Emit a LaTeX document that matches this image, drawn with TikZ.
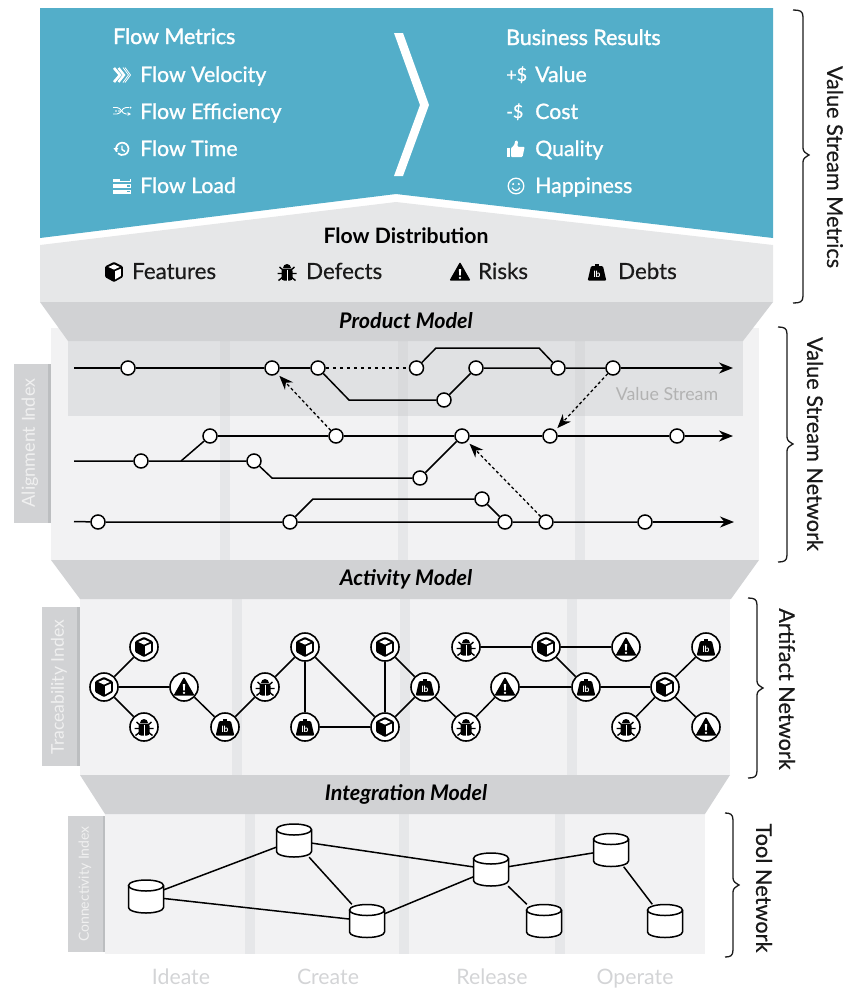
\documentclass[tikz,border=0pt]{standalone}
\usepackage{fontspec}
\setmainfont{Lato}
\newfontfamily\softfont[FakeBold=0.5]{Lato}
\newfontfamily\medfont[FakeBold=1.0]{Lato}
\newfontfamily\headfont[FakeBold=1.6]{Lato}
\usetikzlibrary{arrows.meta,shapes.geometric}
\definecolor{blueT}{HTML}{53AEC9}
\definecolor{distG}{HTML}{E6E7E8}
\definecolor{modelG}{HTML}{D1D2D4}
\definecolor{panelG}{HTML}{F2F2F3}
\definecolor{bandG}{HTML}{E0E1E3}
\definecolor{stripeG}{HTML}{E6E7E9}
\definecolor{stripeD}{HTML}{D9DADC}
\definecolor{idxG}{HTML}{D1D2D4}
\definecolor{idxE}{HTML}{BCBEC0}
\definecolor{phaseG}{HTML}{D3D4D6}
\definecolor{inkT}{HTML}{1A1A1A}
\tikzset{
  wtext/.style={text=white,inner sep=0,anchor=base west,font=\medfont\fontsize{21.3}{25}\selectfont},
  whead/.style={text=white,inner sep=0,anchor=base west,font=\headfont\fontsize{21.4}{25}\selectfont},
  dtext/.style={text=inkT,inner sep=0,anchor=base west,font=\softfont\fontsize{22.3}{26}\selectfont},
  modeltext/.style={text=black,inner sep=0,anchor=base,font=\bfseries\itshape\fontsize{21.5}{25}\selectfont},
  sidetext/.style={text=inkT,inner sep=0,rotate=-90,font=\softfont\fontsize{21.7}{26}\selectfont},
  idxtext/.style={text=white!94!black,inner sep=0,rotate=90},
  phase/.style={text=phaseG,inner sep=0,anchor=base,font=\fontsize{21.3}{25}\selectfont},
  flowline/.style={line width=1.5pt,black},
  flowarrow/.style={line width=1.5pt,black,-{Stealth[length=14pt,width=11pt]}},
  dashlink/.style={line width=1.1pt,dash pattern=on 3.5pt off 3.5pt,black},
  dotarrow/.style={line width=1.3pt,dash pattern=on 3pt off 2.5pt,black,-{Stealth[length=14pt,width=11pt]}},
  stage/.style={circle,draw=black,fill=white,line width=1.5pt,minimum size=14pt,inner sep=0},
  art/.style={circle,draw=black,fill=white,line width=1.6pt,minimum size=28pt,inner sep=0},
  tool/.style={rectangle,minimum width=35pt,minimum height=33pt,inner sep=0},
  link/.style={line width=1.5pt,black},
  bracket/.style={line width=1.3pt,inkT},
  cyl/.pic={
    \fill[white] (-17.5,-11)--(-17.5,11) arc[start angle=180,end angle=0,x radius=17.5,y radius=5.5]--(17.5,-11)--cycle;
    \draw[black,line width=1.5pt] (-17.5,-11)--(-17.5,11) arc[start angle=180,end angle=0,x radius=17.5,y radius=5.5]--(17.5,-11);
    \draw[black,line width=1.5pt,fill=white] (0,-11) ellipse[x radius=17.5,y radius=5.5];
  },
  cube/.pic={
    \fill[black,rounded corners=1pt] (0,-10)--(8.8,-5.7)--(8.8,5.2)--(0,10)--(-8.8,5.2)--(-8.8,-5.7)--cycle;
    \fill[white] (0,-7.6)--(5.7,-5)--(0,-2.4)--(-5.7,-5)--cycle;
    \fill[white] (1.1,-0.8)--(6.9,-3.3)--(6.9,4)--(1.1,7.4)--cycle;
  },
  bug/.pic={
    \draw[black,line width=1.4pt] (-4,-2)--(-7.5,-5) (4,-2)--(7.5,-5) (-4,1.5)--(-9.5,1.5) (4,1.5)--(9.5,1.5) (-4,5)--(-8.5,8.5) (4,5)--(8.5,8.5);
    \fill[black] (-4,-4) arc[start angle=180,end angle=360,radius=4] -- cycle;
    \fill[black,rounded corners=2.5pt] (-5.5,-3.5) rectangle (5.5,8.5);
    \draw[white,line width=1pt] (0,-2.5)--(0,8.5);
  },
  risk/.pic={
    \fill[black,rounded corners=1pt] (0,-10)--(10.5,8.5)--(-10.5,8.5)--cycle;
    \fill[white] (-1.2,-3)--(1.2,-3)--(0.7,3.5)--(-0.7,3.5)--cycle;
    \fill[white] (0,5.8) circle[radius=1.3];
  },
  debt/.pic={
    \fill[black] (-2,-8) rectangle (2,-5);
    \fill[black,rounded corners=1pt] (-6,-5.8)--(6,-5.8)--(9.3,8.5)--(-9.3,8.5)--cycle;
    \node[text=white,inner sep=0,font=\bfseries\fontsize{8.5}{8.5}\selectfont] at (0,2) {lb};
  },
  velicon/.pic={
    \draw[white,line width=2.6pt] (-8,-7)--(-2,0)--(-8,7);
    \draw[white,line width=2.4pt] (-3.5,-7)--(2,0)--(-3.5,7);
    \draw[white,line width=0.8pt] (1,-7.5)--(6.5,0)--(1,7.5);
    \draw[white,line width=0.8pt] (3,-7.5)--(8.5,0)--(3,7.5);
  },
  efficon/.pic={
    \draw[white,line width=0.9pt,-{Stealth[length=3.5pt,width=3.5pt]}] (-9,-3.5)--(-5,-3.5) .. controls (-1,-3.5) and (0,3) .. (4,3) -- (9,3);
    \draw[white,line width=0.9pt] (-9,3)--(-5,3) .. controls (-1,3) and (0,-3.5) .. (4,-3.5) -- (7,-3.5);
    \fill[white] (-6,0) circle[radius=0.9] (-3,0) circle[radius=0.9];
    \fill[white] (8.5,-3.5) circle[radius=1];
  },
  timeicon/.pic={
    \draw[white,line width=1.7pt] (-5.2,2.8) arc[start angle=208,end angle=-135,x radius=6.2,y radius=-6.2];
    \fill[white] (-8.5,-0.8)--(-3.6,-0.8)--(-6,2.4)--cycle;
    \draw[white,line width=1.4pt] (0,-3.5)--(0,0.5)--(3,2.5);
  },
  loadicon/.pic={
    \fill[white] (-8.7,-7.5) rectangle (8.7,-3.6);
    \fill[white] (-8.7,-2.2) rectangle (8.7,2.2);
    \fill[white] (-8.7,3.6) rectangle (8.7,7.5);
    \fill[blueT] (-2,-6.6) rectangle (7.5,-4.6);
    \fill[blueT] (5,-0.8) rectangle (7.5,0.8);
    \fill[blueT] (5,4.8) rectangle (7.5,6.4);
  },
  thumbicon/.pic={
    \fill[white] (-8.7,-1) rectangle (-6.3,8);
    \fill[white,rounded corners=1pt] (-5,-1) -- (-2,-3.5) -- (-0.5,-8.8) -- (2,-8) -- (1.4,-2.2) -- (8.7,-2.2) -- (6.5,8) -- (-5,8) -- cycle;
  },
  smileicon/.pic={
    \draw[white,line width=1.3pt] (0,0) circle[radius=7.8];
    \fill[white] (-2.8,-2) circle[radius=1.2] (2.8,-2) circle[radius=1.2];
    \draw[white,line width=1.2pt] (-4,1.8) .. controls (-2,5.2) and (2,5.2) .. (4,1.8);
  }
}
\newcommand{\sidebrace}[6]{% left, spine, tip, top, mid, bottom
  \draw[bracket] ({#1},{#4}) .. controls ({#2-3},{#4}) and ({#2},{#4+1}) .. ({#2},{#4+7})
    -- ({#2},{#5-7}) .. controls ({#2},{#5-3}) and ({#3-3},{#5-2}) .. ({#3},{#5})
    .. controls ({#3-3},{#5+2}) and ({#2},{#5+3}) .. ({#2},{#5+7})
    -- ({#2},{#6-7}) .. controls ({#2},{#6-1}) and ({#2-3},{#6}) .. ({#1},{#6});
}
\begin{document}
\begin{tikzpicture}[x=1pt,y=-1pt]
\useasboundingbox (0,0) rectangle (854,989);
% top sections
\fill[blueT] (40,8)--(773,8)--(773,238)--(396,194)--(40,238)--cycle;
\fill[white] (394,33)--(403,33)--(429,105)--(403,176)--(394,176)--(420,105)--cycle;
\fill[distG] (40,245)--(396,202)--(773,245)--(773,302)--(40,302)--cycle;
% value stream network panel
\fill[panelG] (51,328) rectangle (759,560);
\foreach \a/\b in {220/230,398/408,575/585}{\fill[stripeG] (\a,341) rectangle (\b,560);}
\fill[bandG] (68,341) rectangle (743,416);
\foreach \a/\b in {220/230,398/408,575/585}{\fill[stripeD] (\a,341) rectangle (\b,416);}
\fill[idxG] (14,364) rectangle (51,523);
\fill[idxE] (48,364) rectangle (51,523);
\fill[modelG] (40,302)--(773,302)--(743,341)--(68,341)--cycle;
% artifact panel
\fill[panelG] (80,599) rectangle (730,775);
\foreach \a/\b in {232/242,400/410,567/577}{\fill[stripeG] (\a,599) rectangle (\b,775);}
\fill[idxG] (42,607) rectangle (80,766);
\fill[idxE] (77,607) rectangle (80,766);
\fill[modelG] (51,560)--(759,560)--(731,599)--(80,599)--cycle;
% tool panel
\fill[panelG] (105,814) rectangle (705,954);
\foreach \a/\b in {245/255,399/409,555/565}{\fill[stripeG] (\a,814) rectangle (\b,954);}
\fill[idxG] (68,816) rectangle (105,952);
\fill[idxE] (103,816) rectangle (105,952);
\fill[modelG] (80,775)--(730,775)--(705,814)--(105,814)--cycle;
% metric texts
\node[whead] (tFM) at (113,44) {Flow Metrics};
\node[wtext] (tFV) at (140,82) {Flow Velocity};
\node[wtext] (tFE) at (140,119) {Flow Efficiency};
\node[wtext] (tFT) at (140,156) {Flow Time};
\node[wtext] (tFL) at (140,193) {Flow Load};
\pic at (122,75) {velicon};
\pic at (122,111) {efficon};
\pic at (122,149) {timeicon};
\pic at (122,186) {loadicon};
\node[whead] (tBR) at (506,45) {Business Results};
\node[wtext,font=\softfont\fontsize{18}{20}\selectfont] (tPD) at (506,81) {+\$};
\node[wtext] (tV) at (535,82) {Value};
\node[wtext,font=\softfont\fontsize{18}{20}\selectfont] (tMD) at (506,118) {-\$};
\node[wtext] (tC) at (535,119) {Cost};
\pic at (516,149) {thumbicon};
\node[wtext] (tQ) at (535,156) {Quality};
\pic at (516,186) {smileicon};
\node[wtext] (tH) at (535,193) {Happiness};
% distribution
\node[text=black,inner sep=0,anchor=base,font=\bfseries\fontsize{21.2}{25}\selectfont] (tFD) at (406,243) {Flow Distribution};
\pic at (114,272) {cube};
\node[dtext] (tF) at (132,279) {Features};
\pic at (287,272) {bug};
\node[dtext] (tD) at (306,279) {Defects};
\pic at (460,272) {risk};
\node[dtext] (tR) at (478,279) {Risks};
\pic at (597,272) {debt};
\node[dtext] (tB) at (618,279) {Debts};
% model labels
\node[modeltext] (mP) at (406,328) {Product Model};
\node[modeltext] (mA) at (406,585) {Activity Model};
\node[modeltext] (mI) at (406,800) {Integration Model};
% index labels
\node[idxtext,font=\fontsize{18}{22}\selectfont] (iA) at (30,443) {Alignment Index};
\node[idxtext,font=\fontsize{17.6}{22}\selectfont] (iT) at (59,687) {Traceability Index};
\node[idxtext,font=\fontsize{14}{16}\selectfont] (iC) at (85,884) {Connectivity Index};
\node[text=black!30,inner sep=0,font=\fontsize{17.8}{21}\selectfont] (tVS) at (667,394) {Value Stream};
% right braces
\sidebrace{793}{803}{809}{10}{155}{303}
\sidebrace{778}{787}{793}{327}{444}{562}
\sidebrace{748}{757}{763}{598}{688}{778}
\sidebrace{725}{733}{739}{813}{885}{957}
\node[sidetext] (sM) at (835,167) {Value Stream Metrics};
\node[sidetext] (sN) at (815,444) {Value Stream Network};
\node[sidetext] (sA) at (787,689) {Artifact Network};
\node[sidetext] (sT) at (764,888) {Tool Network};
% phases
\node[phase] (pI) at (181,984) {Ideate};
\node[phase] (pC) at (328,984) {Create};
\node[phase] (pR) at (492,984) {Release};
\node[phase] (pO) at (635,984) {Operate};
% value stream network
\coordinate (s1) at (74,368);
\coordinate (e1) at (733,368);
\node[stage] (v1) at (128,368) {};
\node[stage] (v2) at (272,368) {};
\node[stage] (v3) at (318,368) {};
\node[stage] (v4) at (416.5,368) {};
\node[stage] (v5) at (476,368) {};
\node[stage] (v6) at (558,368) {};
\node[stage] (v7) at (613,368) {};
\node[stage] (v8) at (444,400) {};
\coordinate (b1) at (436,348);
\coordinate (b2) at (539,348);
\coordinate (b3) at (349,400);
\draw[flowline] (s1)--(v1)--(v2)--(v3);
\draw[dashlink] (v3)--(v4);
\draw[flowline] (v4)--(b1)--(b2)--(v6);
\draw[flowline] (v3)--(b3)--(v8)--(v5)--(v6)--(v7);
\draw[flowarrow] (v7)--(e1);
\coordinate (e2) at (733,436);
\coordinate (s2) at (74,461);
\coordinate (j2) at (181,461);
\coordinate (b4) at (272,478);
\node[stage] (w1) at (210,436) {};
\node[stage] (w2) at (336,436) {};
\node[stage] (w3) at (462,436) {};
\node[stage] (w4) at (550,436) {};
\node[stage] (w5) at (677,436) {};
\node[stage] (w6) at (141,461) {};
\node[stage] (w7) at (254,461) {};
\node[stage] (w8) at (420,478) {};
\draw[flowline] (w1)--(w2)--(w3)--(w4)--(w5);
\draw[flowarrow] (w5)--(e2);
\draw[flowline] (s2)--(w6)--(w7)--(b4)--(w8)--(w3);
\draw[flowline] (j2)--(w1);
\coordinate (s3) at (74,521.5);
\coordinate (e3) at (734,522);
\coordinate (b5) at (313,499);
\node[stage] (x1) at (98,522) {};
\node[stage] (x2) at (290,522) {};
\node[stage] (x3) at (505,522) {};
\node[stage] (x4) at (546,522) {};
\node[stage] (x5) at (645,522) {};
\node[stage] (x6) at (482,499) {};
\draw[flowline] (s3)--(x1)--(x2)--(x3)--(x4)--(x5);
\draw[flowarrow] (x5)--(e3);
\draw[flowline] (x2)--(b5)--(x6)--(x3);
\draw[dotarrow,shorten >=3pt] (w2)--(v2);
\draw[dotarrow,shorten >=3pt] (v7)--(w4);
\draw[dotarrow,shorten >=3pt] (x4)--(w3);
% artifact network
\node[art] (a1) at (104,687) {};
\node[art] (a2) at (144,647) {};
\node[art] (a3) at (144,727) {};
\node[art] (a4) at (184,687) {};
\node[art] (a5) at (225,727) {};
\node[art] (a6) at (265,687) {};
\node[art] (a7) at (305,647) {};
\node[art] (a8) at (305,727) {};
\node[art] (a9) at (385,647) {};
\node[art] (a10) at (385,727) {};
\node[art] (a11) at (425,687) {};
\node[art] (a12) at (466,727) {};
\node[art] (a13) at (505,687) {};
\node[art] (a14) at (466,647) {};
\node[art] (a15) at (546,647) {};
\node[art] (a16) at (626,647) {};
\node[art] (a17) at (586,687) {};
\node[art] (a18) at (665,687) {};
\node[art] (a19) at (706,647) {};
\node[art] (a20) at (626,727) {};
\node[art] (a21) at (706,727) {};
\foreach \p/\q in {a1/a2,a1/a3,a1/a4,a4/a5,a5/a6,a6/a7,a7/a8,a7/a10,a8/a10,a9/a10,a9/a11,a10/a11,a11/a12,a12/a13,a13/a17,a14/a15,a15/a16,a15/a17,a17/a18,a18/a19,a18/a20,a18/a21}{\draw[link] (\p)--(\q);}
\foreach \n in {a1,a2,a7,a9,a10,a15,a18}{\pic at (\n) {cube};}
\foreach \n in {a3,a6,a12,a14,a20}{\pic at (\n) {bug};}
\foreach \n in {a4,a13,a16,a21}{\pic at (\n) {risk};}
\foreach \n in {a5,a8,a11,a17,a19}{\pic at (\n) {debt};}
% tool network
\node[tool] (c1) at (146,896.5) {};
\node[tool] (c2) at (294,840.5) {};
\node[tool] (c3) at (367,921) {};
\node[tool] (c4) at (491,869.5) {};
\node[tool] (c5) at (544,921) {};
\node[tool] (c6) at (611,850) {};
\node[tool] (c7) at (665,921) {};
\foreach \p/\q in {c1/c2,c1/c3,c2/c3,c2/c4,c3/c4,c4/c5,c4/c6,c6/c7}{\draw[link] (\p)--(\q);}
\foreach \n in {c1,c2,c3,c4,c5,c6,c7}{\pic at (\n) {cyl};}
\end{tikzpicture}
\end{document}
